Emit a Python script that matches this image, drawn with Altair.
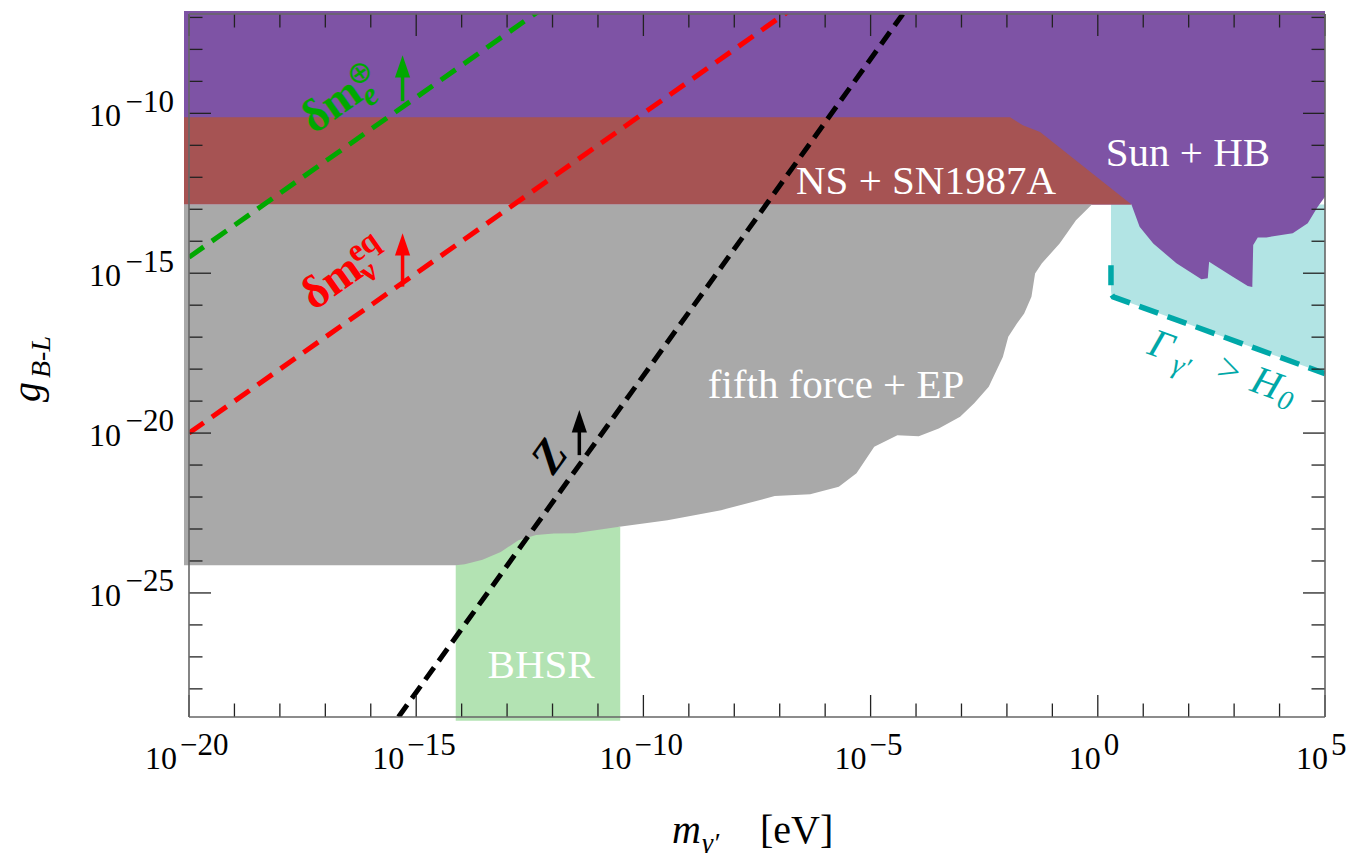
import altair as alt
import pandas as pd

FONT = "Liberation Serif"
W, H = 1136, 703

# ---------------- data (log10 units) ----------------
X_DOMAIN = [-20, 5]            # log10(m / eV)
Y_DOMAIN = [-28.88, -6.893]    # log10(g_B-L)
# filled regions run a hair past the frame (left, top, bottom), as in the original
FILL_LEFT, FILL_TOP, FILL_BOTTOM = -20.11, -6.80, -29.0

# Sun + HB (purple): lower edge, filled up to the top
SUN_HB_X = [FILL_LEFT, 0.74, 0.92, 1.22, 1.73, 2.28, 2.42, 2.45, 2.57, 2.97, 3.30, 3.40,
            3.42, 3.52, 3.71, 4.29, 4.62, 4.84, 5.0]
SUN_HB_Y = [-12.85, -12.85, -13.55, -14.07, -14.69, -15.19, -15.16, -14.64, -14.75,
            -15.11, -15.40, -15.43, -14.12, -13.88, -13.88, -13.75, -13.44, -12.92, -12.61]

# NS + SN1987A (red band)
NS_X = [FILL_LEFT, -1.93, -1.65, -1.27, 0.74]
NS_TOP = [-10.125, -10.125, -10.37, -10.58, -12.85]
NS_BOTTOM = -12.85

# fifth force + EP (gray): lower edge, filled up to the red band
FF_X = [FILL_LEFT, -14.13, -13.93, -13.54, -13.14, -12.75, -12.36, -11.97, -11.51, -10.53,
        -9.47, -8.29, -7.11, -6.33, -5.70, -5.31, -4.92, -4.41, -3.94, -3.50, -3.03,
        -2.72, -2.40, -2.09, -1.97, -1.78, -1.62, -1.46, -1.38, -1.23, -0.84, -0.48, -0.13]
FF_Y = [-24.13, -24.13, -24.10, -23.96, -23.72, -23.35, -23.19, -23.14, -23.13, -22.93,
        -22.73, -22.41, -21.97, -21.91, -21.68, -21.26, -20.43, -20.07, -20.10, -19.86,
        -19.49, -19.07, -18.55, -17.62, -16.99, -16.57, -16.26, -15.74, -15.01, -14.69,
        -14.07, -13.34, -12.85]

# BHSR (green box)
BHSR_X = [-14.13, -10.51]
BHSR_TOP = -22.93

# Gamma > H0 (cyan region and dashed teal edge)
CMB_X = [0.29, 0.30, 0.34, 5.0]
CMB_Y = [-15.53, -15.66, -15.74, -18.14]
TEAL_X = [0.29, 0.29, 0.30, 0.34, 5.0]
TEAL_Y = [-14.75, -15.53, -15.66, -15.74, -18.14]

# dashed lines
DME_X, DME_Y = [-20, -12], [-14.5, -6.5]          # delta m_e (green)
DMNU_X, DMNU_Y = [-20, -6], [-20, -6]             # delta m_nu (red)
Z_X, Z_Y = [-15.39, -4.29], [-28.88, -6.893]      # Z (black)

# arrows
ARROW_LINE = ["dme", "dmnu", "Z"]
ARROW_X = [-15.3, -15.3, -11.41]
ARROW_BASE = [-9.62, -15.42, -20.69]
ARROW_TIP = [-8.18, -13.75, -19.28]

# region labels
REGION_LABELS = ["NS + SN1987A", "Sun + HB", "fifth force + EP", "BHSR"]
REGION_X = [-3.78, 1.985, -5.76, -12.25]
REGION_Y = [-12.52, -11.64, -18.91, -27.66]

# line label anchors
DME_LABEL = (-17.25, -10.66)
DMNU_LABEL = (-17.25, -16.18)
Z_LABEL = (-12.055, -20.74)
GAMMA_LABEL = (1.06, -17.50)

# ticks
X_MAJOR = [-20, -15, -10, -5, 0, 5]
X_MINOR = [v for v in range(-19, 5) if v % 5 != 0]
Y_MAJOR = [-25, -20, -15, -10]
Y_MINOR = [v for v in range(-28, -6) if v % 5 != 0]
X_LABEL_EXP = ["\u221220", "\u221215", "\u221210", "\u22125", "0", "5"]
Y_LABEL_EXP = ["\u221225", "\u221220", "\u221215", "\u221210"]

# colours
PURPLE = "#7E53A5"
REDBAND = "#A65353"
GRAY = "#A9A9A9"
BHSR_C = "#B3E3B3"
CYAN = "#B2E4E4"
GREEN = "#00A800"
RED = "#FF0000"
BLACK = "#000000"
TEAL = "#00A8A8"
TICK = "#222222"
FRAME = "#666666"


def X(f="x"):
    return alt.X(f"{f}:Q", scale=alt.Scale(domain=X_DOMAIN, nice=False, zero=False), axis=None)


def Y(f="y"):
    return alt.Y(f"{f}:Q", scale=alt.Scale(domain=Y_DOMAIN, nice=False, zero=False), axis=None)


one = pd.DataFrame({"a": [0]})
layers = []

# ---- filled regions ----
layers.append(alt.Chart(pd.DataFrame({"x": CMB_X, "y": CMB_Y, "top": NS_BOTTOM}))
              .mark_area(color=CYAN, opacity=1).encode(x=X(), y=Y(), y2="top:Q"))
layers.append(alt.Chart(pd.DataFrame({"x": SUN_HB_X, "y": SUN_HB_Y, "top": FILL_TOP}))
              .mark_area(color=PURPLE, opacity=1).encode(x=X(), y=Y(), y2="top:Q"))
layers.append(alt.Chart(pd.DataFrame({"x": NS_X, "y": NS_BOTTOM, "top": NS_TOP}))
              .mark_area(color=REDBAND, opacity=1).encode(x=X(), y=Y(), y2="top:Q"))
layers.append(alt.Chart(pd.DataFrame({"x": [BHSR_X[0]], "x2": [BHSR_X[1]],
                                      "y": [FILL_BOTTOM], "y2": [BHSR_TOP]}))
              .mark_rect(color=BHSR_C, opacity=1).encode(x=X(), x2="x2:Q", y=Y(), y2="y2:Q"))
layers.append(alt.Chart(pd.DataFrame({"x": FF_X, "y": FF_Y, "top": NS_BOTTOM}))
              .mark_area(color=GRAY, opacity=1).encode(x=X(), y=Y(), y2="top:Q"))


# ---- dashed lines ----
def dashed(xs, ys, color, dash, width):
    df = pd.DataFrame({"x": xs, "y": ys, "i": list(range(len(xs)))})
    return alt.Chart(df).mark_line(color=color, strokeDash=dash, strokeWidth=width,
                                   clip=True).encode(x=X(), y=Y(), order="i:Q")


layers.append(dashed(DME_X, DME_Y, GREEN, [18, 10], 5))
layers.append(dashed(DMNU_X, DMNU_Y, RED, [18, 10], 5))
layers.append(dashed(Z_X, Z_Y, BLACK, [15, 8], 5))
layers.append(dashed(TEAL_X, TEAL_Y, TEAL, [20, 10], 5.5))

# ---- arrows ----
arrow_df = pd.DataFrame({"x": ARROW_X, "base": ARROW_BASE, "tip": ARROW_TIP, "line": ARROW_LINE})
acol = alt.Color("line:N", scale=alt.Scale(domain=["dme", "dmnu", "Z"], range=[GREEN, RED, BLACK]),
                 legend=None)
layers.append(alt.Chart(arrow_df).mark_rule(strokeWidth=3.5, y2Offset=8)
              .encode(x=X(), y=Y("base"), y2="tip:Q", color=acol))
layers.append(alt.Chart(arrow_df).mark_point(shape="M0,0L0.34,1L-0.34,1Z", size=2000, filled=True,
                                             opacity=1, strokeWidth=0)
              .encode(x=X(), y=Y("tip"), color=acol))

# ---- region labels ----
layers.append(alt.Chart(pd.DataFrame({"label": REGION_LABELS, "x": REGION_X, "y": REGION_Y}))
              .mark_text(font=FONT, fontSize=41, color="white", align="center", baseline="alphabetic")
              .encode(x=X(), y=Y(), text="label:N"))


def piece(anchor, text, size, color, dx=0, dy=0, angle=0, style="normal", weight="normal",
          align="left", baseline="alphabetic"):
    df = pd.DataFrame({"x": [anchor[0]], "y": [anchor[1]]})
    return alt.Chart(df).mark_text(text=text, font=FONT, fontSize=size, color=color, dx=dx, dy=dy,
                                   angle=angle, fontStyle=style, fontWeight=weight, align=align,
                                   baseline=baseline).encode(x=X(), y=Y())


A_LINE1 = 324.9
layers += [
    piece(DME_LABEL, "\u03b4m", 46, GREEN, angle=A_LINE1, weight="bold"),
    piece(DME_LABEL, "e", 32, GREEN, dx=61, dy=10, angle=A_LINE1, style="italic", weight="bold"),
    piece(DME_LABEL, "\u2295", 30, GREEN, dx=60, dy=-14, angle=A_LINE1),
    piece(DMNU_LABEL, "\u03b4m", 46, RED, angle=A_LINE1, weight="bold"),
    piece(DMNU_LABEL, "\u03bd", 32, RED, dx=60, dy=9, angle=A_LINE1, weight="bold"),
    piece(DMNU_LABEL, "eq", 32, RED, dx=61, dy=-15, angle=A_LINE1, weight="bold"),
    piece(Z_LABEL, "Z", 46, BLACK, angle=305.7, style="italic", weight="bold", align="center",
          baseline="middle"),
    piece(GAMMA_LABEL, "\u0393", 40, TEAL, angle=19.9, style="italic"),
    piece(GAMMA_LABEL, "\u03b3\u2032", 28, TEAL, dx=29, dy=9, angle=19.9, style="italic"),
    piece(GAMMA_LABEL, ">", 40, TEAL, dx=73, angle=19.9),
    piece(GAMMA_LABEL, "H", 40, TEAL, dx=109, angle=19.9, style="italic"),
    piece(GAMMA_LABEL, "0", 28, TEAL, dx=140, dy=6, angle=19.9, style="italic"),
]


# ---- ticks (Mathematica style frame ticks, inside) ----
def ticks(vals, side, length):
    c = alt.Chart(pd.DataFrame({"v": vals})).mark_rule(color=TICK, strokeWidth=1.3)
    if side == "bottom":
        return c.encode(x=X("v"), y=alt.value(H), y2=alt.value(H - length))
    if side == "top":
        return c.encode(x=X("v"), y=alt.value(0), y2=alt.value(length))
    if side == "left":
        return c.encode(y=Y("v"), x=alt.value(0), x2=alt.value(length))
    return c.encode(y=Y("v"), x=alt.value(W), x2=alt.value(W - length))


for side in ["bottom", "top"]:
    layers.append(ticks(X_MAJOR, side, 22))
    layers.append(ticks(X_MINOR, side, 13.5))
for side in ["left", "right"]:
    layers.append(ticks(Y_MAJOR, side, 22))
    layers.append(ticks(Y_MINOR, side, 13.5))

# ---- frame ----
fr = alt.Chart(one).mark_rule(color=FRAME, strokeWidth=1.6)
layers += [
    fr.encode(x=alt.value(0), x2=alt.value(W), y=alt.value(0)),
    fr.encode(x=alt.value(0), x2=alt.value(W), y=alt.value(H)),
    fr.encode(x=alt.value(0), y=alt.value(0), y2=alt.value(H)),
    fr.encode(x=alt.value(W), y=alt.value(0), y2=alt.value(H)),
]

# ---- tick labels ----
xl = pd.DataFrame({"v": X_MAJOR, "e": X_LABEL_EXP})
xl["n"] = xl["e"].str.len()
for n, d10, dexp in [(3, -12, -9), (2, -4, -1), (1, 3, 6)]:
    base = alt.Chart(xl).transform_filter(f"datum.n == {n}")
    layers.append(base.mark_text(text="10", font=FONT, fontSize=32, color=BLACK, align="right",
                                 baseline="alphabetic", dx=d10)
                  .encode(x=X("v"), y=alt.value(H + 52)))
    layers.append(base.mark_text(font=FONT, fontSize=31, color=BLACK, align="left",
                                 baseline="alphabetic", dx=dexp)
                  .encode(x=X("v"), y=alt.value(H + 38), text="e:N"))

yl = pd.DataFrame({"v": Y_MAJOR, "e": Y_LABEL_EXP})
layers.append(alt.Chart(yl).mark_text(text="10", font=FONT, fontSize=32, color=BLACK, align="right",
                                      baseline="alphabetic", dy=12.7)
              .encode(y=Y("v"), x=alt.value(-68)))
layers.append(alt.Chart(yl).mark_text(font=FONT, fontSize=31, color=BLACK, align="right",
                                      baseline="alphabetic", dy=-1.6)
              .encode(y=Y("v"), x=alt.value(-15), text="e:N"))


# ---- axis titles ----
def title_piece(text, x, y, size, dx=0, dy=0, angle=0, style="normal"):
    return alt.Chart(one).mark_text(text=text, font=FONT, fontSize=size, color=BLACK, dx=dx, dy=dy,
                                    angle=angle, fontStyle=style, align="left",
                                    baseline="alphabetic").encode(x=alt.value(x), y=alt.value(y))


layers += [
    title_piece("g", -149, 388, 40, angle=270, style="italic"),
    title_piece("B-L", -149, 388, 28, dx=24, dy=10, angle=270, style="italic"),
    title_piece("m", 483, H + 126, 40, style="italic"),
    title_piece("\u03b3\u2032", 483, H + 126, 28, dx=30, dy=9, style="italic"),
    title_piece("[eV]", 571, H + 126, 40),
]

chart = alt.layer(*layers).properties(
    width=W, height=H,
    autosize=alt.AutoSizeParams(type="none"),
    padding={"left": 181, "top": 6, "right": 21, "bottom": 136},
    background="white",
).configure_view(stroke=None)

chart.save("out.html", embed_options={"renderer": "svg", "actions": False})
